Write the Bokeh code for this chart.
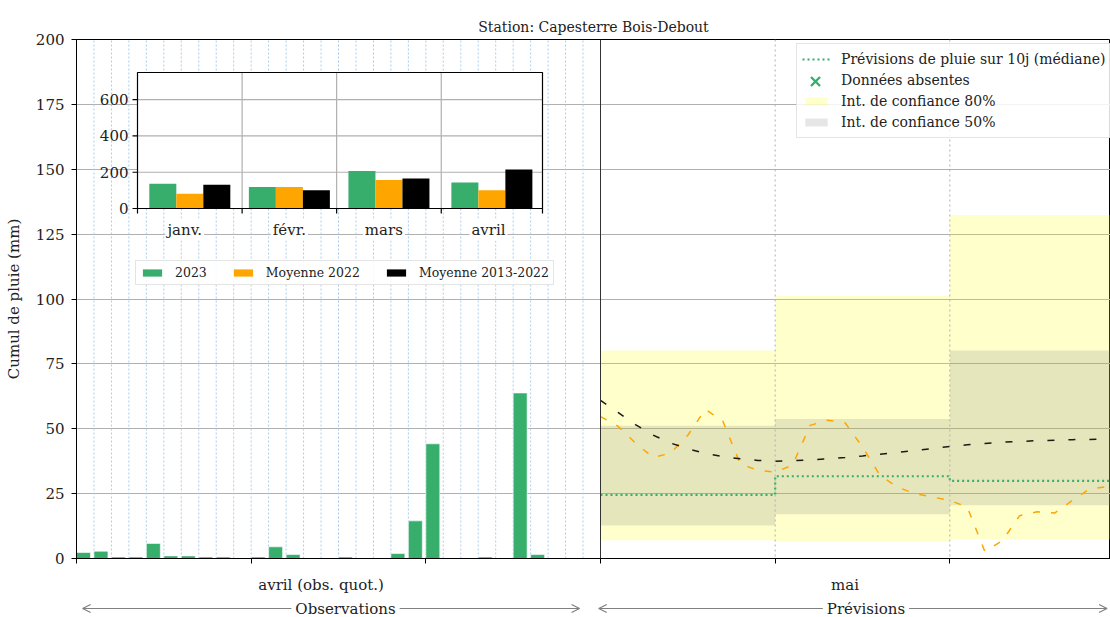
import numpy as np
from bokeh.plotting import figure
from bokeh.layouts import column
from bokeh.models import (Range1d, FixedTicker, Legend, LegendItem, Label, Arrow,
                          OpenHead, Span)
from bokeh.core.properties import value
from bokeh.embed import file_html
from bokeh.resources import INLINE

# ---------------- data ----------------
title_text = "Station: Capesterre Bois-Debout"
# daily rainfall observations, April 2023 (mm)
obs_rain = [2.3, 2.8, 0.6, 0.6, 5.8, 1.0, 1.0, 0.6, 0.6, 0.0,
            0.6, 4.5, 1.5, 0.0, 0.0, 0.6, 0.0, 0.0, 1.9, 14.5,
            44.2, 0.0, 0.0, 0.6, 0.0, 63.8, 1.5, 0.0, 0.0, 0.0]
# 10-day forecast blocks (day index from 1 April)
fc_start = [30, 40, 50]
fc_end = [40, 50, 60]
fc_q10 = [7.0, 6.5, 7.4]
fc_q90 = [80.2, 101.2, 132.4]
fc_q25 = [12.7, 17.1, 20.5]
fc_q75 = [51.2, 53.8, 80.2]
fc_med = [24.5, 31.7, 29.9]
# rolling 10-day accumulations (mm), one value per day from 1 May
avg_2022 = [54.7, 51.0, 44.5, 39.0, 40.5, 47.5, 57.5, 53.0, 36.5, 34.0,
            33.3, 36.0, 51.3, 53.3, 52.3, 43.0, 32.0, 27.5, 25.0, 23.7,
            22.4, 19.8, 2.8, 6.8, 16.5, 18.0, 17.5, 22.3, 26.8, 27.7]
avg_2013_2022 = [60.9, 56.3, 51.6, 47.6, 44.5, 42.3, 40.5, 39.3, 38.4, 37.8,
                 37.5, 37.7, 38.0, 38.4, 38.9, 39.5, 40.2, 40.9, 41.6, 42.4,
                 43.2, 43.8, 44.3, 44.8, 45.1, 45.4, 45.6, 45.8, 45.9, 46.0]
main_yticks = [0, 25, 50, 75, 100, 125, 150, 175, 200]
x_tick_days = [0, 10, 20, 30, 40, 50]
x_label_days = [14, 44]
x_label_text = ["avril (obs. quot.)", "mai"]
period_text = ["Observations", "Prévisions"]
period_from = [0.35, 29.9]
period_to = [28.8, 59.0]
period_text_x = [15.4, 45.2]

# monthly totals (inset)
months = ["janv.", "févr.", "mars", "avril"]
month_start = [0, 31, 59, 90]
month_len = [31, 28, 31, 30]
tot_2023 = [137, 118, 207, 144]
tot_avg_2022 = [81, 118, 157, 100]
tot_avg_2013_2022 = [131, 100, 165, 215]
inset_yticks = [0, 200, 400, 600]
inset_ymax = 750

# ---------------- styles ----------------
GREEN = "#37ae6b"
ORANGE = "#ffa500"
BLACK = "#1a1a1a"
GRID = "#b0b0b0"
TXT = "#222222"
FONT = "DejaVu Serif"

PX_PER_DAY = 524 / 30.0
FW, FH = 1034, 519
BL = 76
x_end = FW / PX_PER_DAY

p = figure(frame_width=FW, frame_height=FH, output_backend="svg",
           toolbar_location=None, x_range=Range1d(0, x_end),
           y_range=Range1d(0, 200), min_border_left=BL, min_border_right=0,
           min_border_top=39, min_border_bottom=41, title=title_text)
p.title.text_font = FONT
p.title.text_font_size = "14px"
p.title.text_font_style = "normal"
p.title.text_color = TXT
p.title.align = "center"
p.title.standoff = 10
p.background_fill_color = "white"
p.outline_line_color = "black"
p.outline_line_width = 1

# axes
yax = p.yaxis[0]
yax.ticker = FixedTicker(ticks=main_yticks)
yax.axis_label = "Cumul de pluie (mm)"
yax.axis_label_text_font = FONT
yax.axis_label_text_font_size = "15px"
yax.axis_label_text_font_style = "normal"
yax.axis_label_text_color = TXT
yax.axis_label_standoff = 10
yax.major_label_text_font = FONT
yax.major_label_text_font_size = "15px"
yax.major_label_text_color = TXT
yax.major_label_standoff = 7
yax.major_tick_out = 5
yax.major_tick_in = 0
yax.minor_tick_line_color = None
yax.axis_line_color = "black"
yax.major_tick_line_color = "black"

xax = p.xaxis[0]
xax.ticker = FixedTicker(ticks=x_label_days, minor_ticks=x_tick_days)
xax.major_label_overrides = {d: t for d, t in zip(x_label_days, x_label_text)}
xax.major_label_text_font = FONT
xax.major_label_text_font_size = "15px"
xax.major_label_text_color = TXT
xax.major_tick_line_color = None
xax.major_tick_out = 0
xax.major_tick_in = 0
xax.major_label_standoff = 12
xax.minor_tick_out = 5
xax.minor_tick_in = 0
xax.minor_tick_line_color = "black"
xax.axis_line_color = "black"

p.xgrid.visible = False
p.ygrid.ticker = FixedTicker(ticks=main_yticks)
p.ygrid.grid_line_color = GRID
p.ygrid.grid_line_width = 1.2

# daily dotted grid in observation part
obs_days = list(range(1, len(obs_rain)))
p.segment(x0=obs_days, y0=[0] * len(obs_days), x1=obs_days,
          y1=[200] * len(obs_days), line_color="#a9cdec", line_width=1,
          line_dash="2 2")
# forecast dotted grid
for d in x_tick_days:
    if d > fc_start[0]:
        p.add_layout(Span(location=d, dimension="height", line_color=GRID,
                          line_width=1, line_dash="2 3"))

# forecast intervals
r80 = p.quad(left=fc_start, right=fc_end, bottom=fc_q10, top=fc_q90,
             fill_color="#ffff00", fill_alpha=0.2, line_color=None)
r50 = p.quad(left=fc_start, right=fc_end, bottom=fc_q25, top=fc_q75,
             fill_color="#808080", fill_alpha=0.2, line_color=None)
xs, ys = [], []
for s, e, m in zip(fc_start, fc_end, fc_med):
    xs += [s, e]
    ys += [m, m]
rmed = p.line(xs, ys, line_color=GREEN, line_width=2.2, line_dash="2 3")
# no missing data: NaN points keep the legend entries
rmiss_blank = p.scatter(x=[float("nan")], y=[float("nan")], marker="x",
                        size=10, line_color=GREEN, line_alpha=0)
rmiss = p.scatter(x=[float("nan")], y=[float("nan")], marker="x", size=10,
                  line_color=GREEN, line_width=2.4)

fc_days = [fc_start[0] + i for i in range(len(avg_2022))]
p.line(fc_days, avg_2022, line_color=ORANGE, line_width=1.5, line_dash="7 11")
p.line(fc_days, avg_2013_2022, line_color=BLACK, line_width=1.5,
       line_dash="7 14")

# observed daily bars
obs_x = [i + 0.4 for i in range(len(obs_rain))]
p.vbar(x=obs_x, top=obs_rain, width=0.8, fill_color=GREEN, line_color="white",
       line_width=0.6)

# separator obs / forecast
p.add_layout(Span(location=fc_start[0], dimension="height",
                  line_color="#333333", line_width=1))

# main legend
LX, LY, LPAD, LROW, LGW = 720, 420, 5, 20, 28
leg = Legend(items=[
    LegendItem(label="Prévisions de pluie sur 10j (médiane)", renderers=[rmed]),
    LegendItem(label="Données absentes", renderers=[rmiss_blank]),
    LegendItem(label="Int. de confiance 80%", renderers=[r80]),
    LegendItem(label="Int. de confiance 50%", renderers=[r50]),
], location=(LX, LY))
leg.label_text_font = FONT
leg.label_text_font_size = "14px"
leg.label_text_color = TXT
leg.glyph_width = LGW
leg.glyph_height = 10
leg.label_standoff = 11
leg.label_height = LROW
leg.spacing = 1
leg.padding = LPAD
leg.margin = 0
leg.border_line_color = "#cccccc"
leg.background_fill_alpha = 0.85
p.add_layout(leg)
# larger "x" marker drawn over the 2nd legend row
MS = 32
leg_h = 4 * LROW + 3 * 1 + 2 * LPAD
row2_cy = LY + leg_h - (LPAD + LROW + 1 + LROW / 2)
mleg = Legend(items=[LegendItem(label=" ", renderers=[rmiss])],
              location=(LX + LPAD + LGW / 2 - MS / 2, row2_cy - MS / 2))
mleg.glyph_width = MS
mleg.glyph_height = MS
mleg.label_height = MS
mleg.label_standoff = 0
mleg.padding = 0
mleg.margin = 0
mleg.border_line_color = None
mleg.background_fill_alpha = 0
mleg.label_text_font_size = "1px"
p.add_layout(mleg)

# ---------------- inset (monthly totals) ----------------
IL, IR, IB, IT = 61, 466, 350, 486     # inset box, px from frame bottom-left
inset_xmax = month_start[-1] + month_len[-1]
sx = (IR - IL) / inset_xmax
sy = (IT - IB) / inset_ymax
p.extra_x_ranges = {"ix": Range1d(-IL / sx, inset_xmax + (FW - IR) / sx)}
p.extra_y_ranges = {"iy": Range1d(-IB / sy, inset_ymax + (FH - IT) / sy)}
kw = dict(x_range_name="ix", y_range_name="iy")

p.quad(left=[0], right=[inset_xmax], bottom=[0], top=[inset_ymax],
       fill_color="white", line_color=None, **kw)
bounds_inner = month_start[1:]
p.segment(x0=bounds_inner, y0=[0] * 3, x1=bounds_inner, y1=[inset_ymax] * 3,
          line_color=GRID, line_width=1.2, **kw)
p.segment(x0=[0] * 3, y0=inset_yticks[1:], x1=[inset_xmax] * 3,
          y1=inset_yticks[1:], line_color=GRID, line_width=1.2, **kw)

centers = [s + l / 2 for s, l in zip(month_start, month_len)]
bw = 8
series = [(tot_2023, GREEN, "2023"), (tot_avg_2022, ORANGE, "Moyenne 2022"),
          (tot_avg_2013_2022, "black", "Moyenne 2013-2022")]
inset_items = []
for k, (vals, col, lab) in enumerate(series):
    xk = [c + (k - 1) * bw for c in centers]
    r = p.vbar(x=xk, top=vals, width=bw, fill_color=col, line_color=None, **kw)
    inset_items.append(LegendItem(label=lab, renderers=[r]))

p.quad(left=[0], right=[inset_xmax], bottom=[0], top=[inset_ymax],
       fill_color=None, line_color="black", line_width=1.2, **kw)
# inset ticks
p.ray(x=[0] * len(inset_yticks), y=inset_yticks, length=5, angle=np.pi,
      length_units="screen", line_color="black", line_width=1.2, **kw)
all_bounds = month_start + [inset_xmax]
p.ray(x=all_bounds, y=[0] * len(all_bounds), length=5, angle=-np.pi / 2,
      length_units="screen", line_color="black", line_width=1.2, **kw)
p.text(x=[0] * len(inset_yticks), y=inset_yticks,
       text=[str(v) for v in inset_yticks], x_offset=-9,
       text_align="right", text_baseline="middle", text_font=value(FONT),
       text_font_size="15px", text_color=TXT, **kw)
for s, m in zip(month_start, months):
    p.add_layout(Label(x=s + 14, y=329, x_units="data", y_units="screen",
                       x_range_name="ix", text=m, text_align="center",
                       text_baseline="middle", text_font=FONT,
                       text_font_size="15px", text_color=TXT,
                       background_fill_color="white", padding=2))

ileg = Legend(items=inset_items, location=(59, 273), orientation="horizontal")
ileg.label_text_font = FONT
ileg.label_text_font_size = "12.5px"
ileg.label_text_color = TXT
ileg.glyph_width = 24
ileg.glyph_height = 9
ileg.label_standoff = 11
ileg.label_height = 14
ileg.spacing = 24
ileg.padding = 4
ileg.margin = 0
ileg.border_line_color = "#cccccc"
ileg.background_fill_alpha = 0.85
p.add_layout(ileg)

# ---------------- bottom strip: Observations / Prévisions ----------------
p2 = figure(frame_width=FW, frame_height=18, output_backend="svg",
            toolbar_location=None, x_range=p.x_range, y_range=Range1d(0, 1),
            x_axis_location=None, y_axis_location=None,
            min_border_left=BL, min_border_right=0, min_border_top=0,
            min_border_bottom=0)
p2.grid.visible = False
p2.outline_line_color = None
for x0, x1, xt, txt in zip(period_from, period_to, period_text_x, period_text):
    p2.add_layout(Arrow(x_start=x0, y_start=0.5, x_end=x1, y_end=0.5,
                        line_color="#808080", line_width=1.2,
                        start=OpenHead(size=8, line_color="#808080", line_width=1.2),
                        end=OpenHead(size=8, line_color="#808080", line_width=1.2)))
    p2.add_layout(Label(x=xt, y=0.5, text=txt, text_align="center",
                        text_baseline="middle", text_font=FONT,
                        text_font_size="15px", text_color=TXT,
                        background_fill_color="white", padding=4))

layout = column(p, p2, spacing=0)
open("out.html", "w").write(file_html(layout, INLINE))
